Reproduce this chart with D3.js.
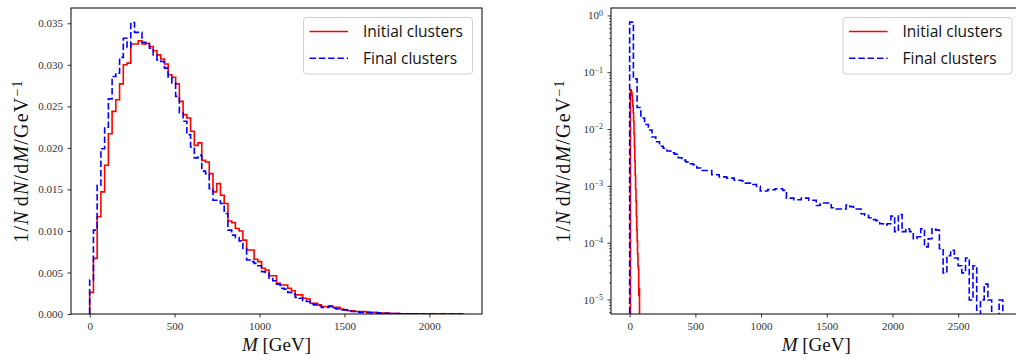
<!DOCTYPE html>
<html>
<head>
<meta charset="utf-8">
<script src="https://cdn.jsdelivr.net/npm/d3@7"></script>
<style>
  body { margin: 0; background: #fff; }
  svg { display: block; }
  .tick line { stroke: #000; stroke-width: 0.8; }
</style>
</head>
<body>
<svg id="chart" width="1016" height="360"></svg>
<script>
// ---- data ----
const seriesNames = ["Initial clusters", "Final clusters"];

// left panel: 100 bins of 22 GeV from 0 GeV
const leftBinStart = 0;
const leftBinWidth = 22;
const leftInitial = [
  0.0026, 0.0067, 0.0117, 0.0147, 0.0179, 0.0217, 0.0244, 0.0258, 0.0277, 0.0300, 0.0302,
  0.0325, 0.0325, 0.0329, 0.0325, 0.0326, 0.0322, 0.0317, 0.0312, 0.0307, 0.0301,
  0.0288, 0.0285, 0.0277, 0.0256, 0.0240, 0.0236, 0.0220, 0.0203, 0.0206, 0.0185,
  0.0183, 0.0169, 0.0147, 0.0157, 0.0143, 0.0133, 0.0112, 0.0110, 0.0103, 0.0100, 0.0089, 0.0077, 0.0077, 0.0066, 0.0063,
  0.0055, 0.0053, 0.0046, 0.0046, 0.0037, 0.0035, 0.0035, 0.0031, 0.0028, 0.0023, 0.0023, 0.0019, 0.0018, 0.0013, 0.0013,
  0.0011, 0.0009, 0.0009, 0.0010, 0.0008, 0.0008, 0.0006, 0.0005, 0.0004, 0.0004, 0.0003, 0.0003, 0.0003, 0.0002, 0.0002,
  0.0002, 0.00015, 0.0001, 0.0001, 0.00008, 0.00005, 0.00005, 0.00003, 0.00002, 0.00002, 0.00001, 0.00001, 0, 0, 0,
  0, 0, 0, 0, 0, 0, 0, 0, 0
];
const leftFinal = [
  0.0041, 0.0101, 0.0155, 0.0199, 0.0225, 0.0259, 0.0286, 0.0290, 0.0309, 0.0332, 0.0321,
  0.0351, 0.0339, 0.0339, 0.0327, 0.0325, 0.0320, 0.0312, 0.0306, 0.0304, 0.0296,
  0.0285, 0.0278, 0.0262, 0.0242, 0.0232, 0.0216, 0.0201, 0.0188, 0.0191, 0.0172,
  0.0169, 0.0151, 0.0137, 0.0136, 0.0133, 0.0121, 0.0101, 0.0095, 0.0092, 0.0088, 0.0079, 0.0065, 0.0063, 0.0061, 0.0058,
  0.0051, 0.0049, 0.0043, 0.0040, 0.0036, 0.0031, 0.0030, 0.0026, 0.0024, 0.0020, 0.0019, 0.0016, 0.0015, 0.0012, 0.0011,
  0.0010, 0.0008, 0.0008, 0.0009, 0.0007, 0.0006, 0.0005, 0.0005, 0.0004, 0.0003, 0.0003, 0.0002, 0.0002, 0.0002, 0.00015,
  0.00015, 0.0001, 0.0001, 0.00008, 0.00006, 0.00005, 0.00004, 0.00003, 0.00002, 0.00002, 0.00001, 0.00001, 0.00001, 0, 0,
  0.00001, 0, 0, 0, 0, 0, 0, 0, 0
];

// right panel: final clusters, 100 bins of 28.4 GeV from 0 GeV
const rightFinalStart = 0;
const rightFinalWidth = 28.4;
const rightFinal = [
  0.78, 0.078, 0.0244, 0.0160, 0.0123, 0.0098, 0.0074, 0.0061, 0.0051, 0.0047,
  0.0042, 0.0039, 0.0037, 0.0032, 0.0029, 0.0027, 0.0025, 0.0024, 0.0021, 0.0019,
  0.0019, 0.0019, 0.0016, 0.0016, 0.00147, 0.00147, 0.00140, 0.00140, 0.00128, 0.00128,
  0.00124, 0.00114, 0.00114, 0.00108, 0.00100, 0.00083, 0.00083, 0.00088, 0.00087, 0.00091,
  0.00091, 0.00085, 0.00062, 0.00062, 0.00058, 0.00058, 0.00062, 0.00062, 0.00057, 0.00057,
  0.00046, 0.00049, 0.00051, 0.00051, 0.00042, 0.00040, 0.00040, 0.00040, 0.00047, 0.00044,
  0.00040, 0.00040, 0.00033, 0.00031, 0.00028, 0.00026, 0.00025, 0.00022, 0.00021, 0.00022,
  0.00030, 0.00016, 0.00032, 0.00016, 0.00018, 0.00016, 0.00012, 0.00013, 0.00018, 0.000086,
  0.00012, 0.00018, 0.00017, 0.00008, 0.00003, 0.00006, 0.000075, 0.000055, 0.00004, 0.00003,
  0.000055, 0.00001, 0.00004, 0, 0.00001, 0.000019, 0.00001, 0, 0, 0.00001
];
// right panel: initial clusters, narrow bins of 3 GeV from 6 GeV
const rightInitialStart = 6;
const rightInitialWidth = 3;
const rightInitial = [
  0.050, 0.050, 0.047, 0.044, 0.040, 0.033, 0.026, 0.020, 0.014, 0.0085,
  0.0050, 0.0028, 0.0016, 0.0009, 0.00055, 0.0003, 0.00017, 0.00011, 0.000065, 0.00004,
  0.000035, 0.000012, 0.000016, 0.000005
];

const massTicksLeft = [0, 500, 1000, 1500, 2000];
const densityTicksLeft = [0, 0.005, 0.010, 0.015, 0.020, 0.025, 0.030, 0.035];
const massTicksRight = [0, 500, 1000, 1500, 2000, 2500];
const decadeTicksRight = [-5, -4, -3, -2, -1, 0];

// ---- layout ----
const svg = d3.select("#chart");
const colors = ["#ff0000", "#0000ff"];
const dashes = [null, "6.5,2.8"];
const SERIF = "'Liberation Serif', 'Times New Roman', serif";

const panels = [
  { left: 71, right: 482, top: 8, bottom: 314, yLabelX: 28, legendX: 303.5 },
  { left: 611, right: 1021.5, top: 8, bottom: 314, yLabelX: 570, legendX: 843 }
];

const xL = d3.scaleLinear().domain([-110, 2310]).range([panels[0].left, panels[0].right]);
const yL = d3.scaleLinear().domain([0, 0.03684]).range([panels[0].bottom, panels[0].top]);
const xR = d3.scaleLinear().domain([-142, 2982]).range([panels[1].left, panels[1].right]);
const yR = d3.scaleLog().domain([5.67e-6, 1.38]).range([panels[1].bottom, panels[1].top]);

function stepPoints(start, width, values, floor) {
  const pts = [[start, floor]];
  values.forEach((v, i) => {
    const val = Math.max(v, floor);
    pts.push([start + i * width, val], [start + (i + 1) * width, val]);
  });
  pts.push([start + values.length * width, floor]);
  return pts;
}

// tick label look (serif, like the LaTeX labels)
const styleTicks = (g) => {
  g.select(".domain").remove();
  g.attr("font-family", SERIF).attr("font-size", 11);
  g.selectAll("text").attr("font-family", SERIF).attr("font-size", "11px").attr("fill", "#333");
};

svg.append("defs").selectAll("clipPath")
  .data(panels)
  .join("clipPath")
  .attr("id", (d, i) => "clip" + i)
  .append("rect")
  .attr("x", (d) => d.left)
  .attr("y", (d) => d.top)
  .attr("width", (d) => d.right - d.left)
  .attr("height", (d) => d.bottom - d.top);

// ---- left panel ----
const gL = svg.append("g");
const lineL = d3.line().x((d) => xL(d[0])).y((d) => yL(d[1]));
[leftInitial, leftFinal].forEach((vals, i) => {
  gL.append("path")
    .attr("clip-path", "url(#clip0)")
    .attr("d", lineL(stepPoints(leftBinStart, leftBinWidth, vals, 0)))
    .attr("fill", "none")
    .attr("stroke", colors[i])
    .attr("stroke-width", 1.6)
    .attr("stroke-dasharray", dashes[i]);
});

gL.append("g")
  .attr("transform", `translate(0,${panels[0].bottom})`)
  .call(d3.axisBottom(xL).tickValues(massTicksLeft).tickFormat(d3.format("d")).tickSize(3.5).tickPadding(4.5))
  .call(styleTicks);

gL.append("g")
  .attr("transform", `translate(${panels[0].left},0)`)
  .call(d3.axisLeft(yL).tickValues(densityTicksLeft).tickFormat(d3.format(".3f")).tickSize(3.5).tickPadding(4.5))
  .call(styleTicks);

// ---- right panel ----
const gR = svg.append("g");
const lineR = d3.line().x((d) => xR(d[0])).y((d) => yR(d[1]));
gR.append("path")
  .attr("clip-path", "url(#clip1)")
  .attr("d", lineR(stepPoints(rightInitialStart, rightInitialWidth, rightInitial, 1e-9)))
  .attr("fill", "none")
  .attr("stroke", colors[0])
  .attr("stroke-width", 1.6);
gR.append("path")
  .attr("clip-path", "url(#clip1)")
  .attr("d", lineR(stepPoints(rightFinalStart, rightFinalWidth, rightFinal, 1e-9)))
  .attr("fill", "none")
  .attr("stroke", colors[1])
  .attr("stroke-width", 1.6)
  .attr("stroke-dasharray", dashes[1]);

gR.append("g")
  .attr("transform", `translate(0,${panels[1].bottom})`)
  .call(d3.axisBottom(xR).tickValues(massTicksRight).tickFormat(d3.format("d")).tickSize(3.5).tickPadding(4.5))
  .call(styleTicks);

// log y axis: major decades with superscript labels, minor ticks 2..9
const minorTicks = [];
[-6].concat(decadeTicksRight).forEach((e) => {
  for (let m = 2; m <= 9; m++) {
    const v = m * Math.pow(10, e);
    if (v >= yR.domain()[0] && v <= yR.domain()[1]) minorTicks.push(v);
  }
});
const yAxisR = gR.append("g").attr("transform", `translate(${panels[1].left},0)`);
yAxisR.selectAll("line.minor")
  .data(minorTicks)
  .join("line")
  .attr("class", "minor")
  .attr("x1", -2)
  .attr("x2", 0)
  .attr("y1", (d) => yR(d))
  .attr("y2", (d) => yR(d))
  .attr("stroke", "#000")
  .attr("stroke-width", 0.6);
const major = yAxisR.selectAll("g.major")
  .data(decadeTicksRight)
  .join("g")
  .attr("class", "major tick")
  .attr("transform", (d) => `translate(0,${yR(Math.pow(10, d))})`);
major.append("line").attr("x1", -3.5).attr("x2", 0);
const lbl = major.append("text")
  .attr("x", -8)
  .attr("dy", "0.32em")
  .attr("text-anchor", "end")
  .attr("font-family", SERIF)
  .attr("font-size", "11px")
  .attr("fill", "#333");
lbl.append("tspan").text("10");
lbl.append("tspan")
  .attr("dy", "-0.45em")
  .attr("font-size", "8px")
  .text((d) => (d < 0 ? "\u2212" + -d : String(d)));

// ---- frames ----
svg.selectAll("rect.frame")
  .data(panels)
  .join("rect")
  .attr("class", "frame")
  .attr("x", (d) => d.left)
  .attr("y", (d) => d.top)
  .attr("width", (d) => d.right - d.left)
  .attr("height", (d) => d.bottom - d.top)
  .attr("fill", "none")
  .attr("stroke", "#000")
  .attr("stroke-width", 1);

// ---- axis labels ----
panels.forEach((p) => {
  const xt = svg.append("text")
    .attr("x", (p.left + p.right) / 2)
    .attr("y", 351)
    .attr("text-anchor", "middle")
    .attr("font-family", SERIF)
    .attr("font-size", "19px")
    .attr("fill", "#111");
  xt.append("tspan").attr("font-style", "italic").text("M");
  xt.append("tspan").text(" [GeV]");

  const yt = svg.append("text")
    .attr("transform", `translate(${p.yLabelX},${(p.top + p.bottom) / 2}) rotate(-90)`)
    .attr("text-anchor", "middle")
    .attr("font-family", SERIF)
    .attr("font-size", "20px")
    .attr("letter-spacing", "1.2px")
    .attr("fill", "#111");
  yt.append("tspan").text("1/");
  yt.append("tspan").attr("font-style", "italic").text("N");
  yt.append("tspan").attr("dx", 4).text("d");
  yt.append("tspan").attr("font-style", "italic").text("N");
  yt.append("tspan").text("/d");
  yt.append("tspan").attr("font-style", "italic").text("M");
  yt.append("tspan").text("/GeV");
  yt.append("tspan").attr("dy", "-0.45em").attr("font-size", "14px").text("\u22121");
});

// ---- legends ----
panels.forEach((p) => {
  const lg = svg.append("g").attr("transform", `translate(${p.legendX},17.5)`);
  lg.append("rect")
    .attr("width", 169)
    .attr("height", 56.5)
    .attr("rx", 3)
    .attr("fill", "#fff")
    .attr("fill-opacity", 0.8)
    .attr("stroke", "#d0d0d0")
    .attr("stroke-width", 1);
  const items = lg.selectAll("g.item")
    .data(seriesNames)
    .join("g")
    .attr("class", "item")
    .attr("transform", (d, i) => `translate(0,${14 + i * 26.7})`);
  items.append("line")
    .attr("x1", 6)
    .attr("x2", 44.5)
    .attr("stroke", (d, i) => colors[i])
    .attr("stroke-width", 1.6)
    .attr("stroke-dasharray", (d, i) => dashes[i]);
  items.append("text")
    .attr("x", 59.5)
    .attr("y", 5.8)
    .attr("font-family", "'Open Sans', sans-serif")
    .attr("font-size", "15.5px")
    .attr("fill", "#111")
    .text((d) => d);
});
</script>
</body>
</html>
